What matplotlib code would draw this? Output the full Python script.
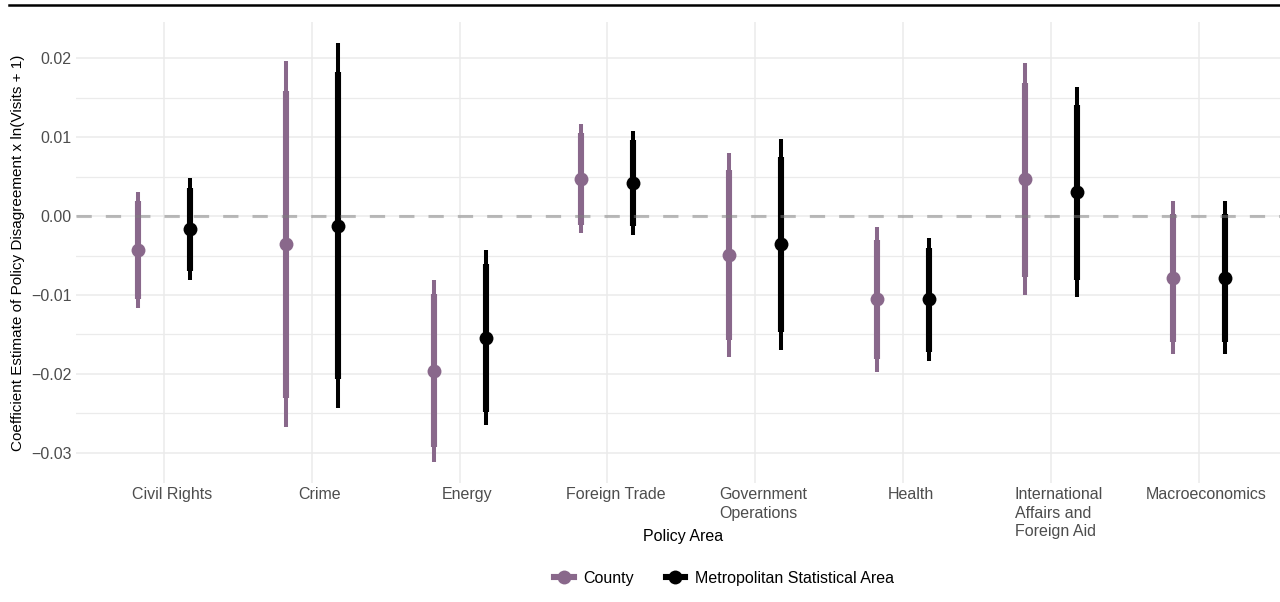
import numpy as np
import matplotlib
matplotlib.use("Agg")
import matplotlib.pyplot as plt
import matplotlib.transforms as mtransforms
from matplotlib.lines import Line2D

plt.rcParams['font.family'] = ['Liberation Sans', 'DejaVu Sans']

areas = ["Civil Rights", "Crime", "Energy", "Foreign Trade", "Government\nOperations",
         "Health", "International\nAffairs and\nForeign Aid", "Macroeconomics"]

# County estimates: point, 95% CI (thin), 90% CI (thick)
county_est = [-0.0043, -0.0036, -0.0196, 0.0047, -0.0049, -0.0105, 0.0047, -0.0078]
county_lo95 = [-0.0116, -0.0267, -0.0311, -0.0021, -0.0178, -0.0197, -0.0100, -0.0175]
county_hi95 = [0.0030, 0.0196, -0.0081, 0.0116, 0.0080, -0.0014, 0.0194, 0.0019]
county_lo90 = [-0.0105, -0.0230, -0.0292, -0.0011, -0.0157, -0.0181, -0.0077, -0.0160]
county_hi90 = [0.0019, 0.0158, -0.0099, 0.0105, 0.0058, -0.0030, 0.0169, 0.0002]

# Metropolitan Statistical Area estimates
msa_est = [-0.0016, -0.0013, -0.0154, 0.0042, -0.0035, -0.0105, 0.0030, -0.0078]
msa_lo95 = [-0.0081, -0.0243, -0.0265, -0.0024, -0.0169, -0.0184, -0.0103, -0.0175]
msa_hi95 = [0.0048, 0.0219, -0.0043, 0.0108, 0.0097, -0.0028, 0.0163, 0.0019]
msa_lo90 = [-0.0070, -0.0206, -0.0248, -0.0013, -0.0147, -0.0172, -0.0081, -0.0160]
msa_hi90 = [0.0036, 0.0182, -0.0061, 0.0096, 0.0075, -0.0041, 0.0141, 0.0002]

purple = "#89688b"
dodge = 0.176

fig = plt.figure(figsize=(12.8, 6.02), dpi=100)
ax = fig.add_axes([76/1280, 1 - 483/602, 1 - 76/1280, (483 - 22)/602])

x = np.arange(len(areas))
for xs, est, lo95, hi95, lo90, hi90, col in [
        (x - dodge, county_est, county_lo95, county_hi95, county_lo90, county_hi90, purple),
        (x + dodge, msa_est, msa_lo95, msa_hi95, msa_lo90, msa_hi90, "black")]:
    ax.vlines(xs, lo95, hi95, color=col, lw=2.9, zorder=3)
    ax.vlines(xs, lo90, hi90, color=col, lw=4.4, zorder=3)
    ax.plot(xs, est, 'o', color=col, ms=10, mec='none', zorder=4)

zl = ax.axhline(0, color="#7f7f7f", alpha=0.5, lw=2.2, zorder=5)
zl.set_dashes([5, 4.6])

ax.set_xlim(-0.595, 7.551)
ax.set_ylim(-0.0338, 0.02456)
ax.set_yticks([-0.03, -0.02, -0.01, 0.0, 0.01, 0.02])
ax.set_yticks([-0.025, -0.015, -0.005, 0.005, 0.015], minor=True)
ax.yaxis.set_major_formatter(plt.FuncFormatter(lambda v, p: f"{v:.2f}".replace("-", "\u2212")))
ax.set_xticks(x)
ax.set_xticklabels([])

# category labels, shifted slightly right like the original
offset = mtransforms.ScaledTranslation(8/100, 0, fig.dpi_scale_trans)
for xi, name in zip(x, areas):
    ax.text(xi, -4/461, name, transform=ax.get_xaxis_transform() + offset,
            ha='center', va='top', multialignment='left', fontsize=11.5,
            color="#4d4d4d", linespacing=1.3)

ax.grid(True, which='major', color="#ebebeb", lw=1.1)
ax.grid(True, which='minor', axis='y', color="#ebebeb", lw=0.9)
ax.set_axisbelow(True)
for s in ax.spines.values():
    s.set_visible(False)
ax.tick_params(which='both', length=0, labelsize=11.5, colors="#4d4d4d", pad=3)

ax.set_xlabel("Policy Area", fontsize=11.5)
ax.xaxis.set_label_coords((683 - 76)/(1280 - 76), -(529 - 483)/(483 - 22))
ax.set_ylabel("Coefficient Estimate of Policy Disagreement x ln(Visits + 1)", fontsize=11)
ax.yaxis.set_label_coords(-(76 - 25)/(1280 - 76), 0.5)

fig.add_artist(Line2D([9/1280, 1], [1 - 4.5/602, 1 - 4.5/602], transform=fig.transFigure,
                      color="black", lw=1.8))

handles = [Line2D([], [], color=purple, lw=4.4, marker='o', ms=10, mec='none'),
           Line2D([], [], color="black", lw=4.4, marker='o', ms=10, mec='none')]
fig.legend(handles, ["County", "Metropolitan Statistical Area"], loc='center',
           bbox_to_anchor=(724/1280, 1 - 578/602), ncol=2, frameon=False, fontsize=11.5,
           handlelength=1.2, handletextpad=0.6, columnspacing=2.0)

fig.savefig("out.png", dpi=100)
